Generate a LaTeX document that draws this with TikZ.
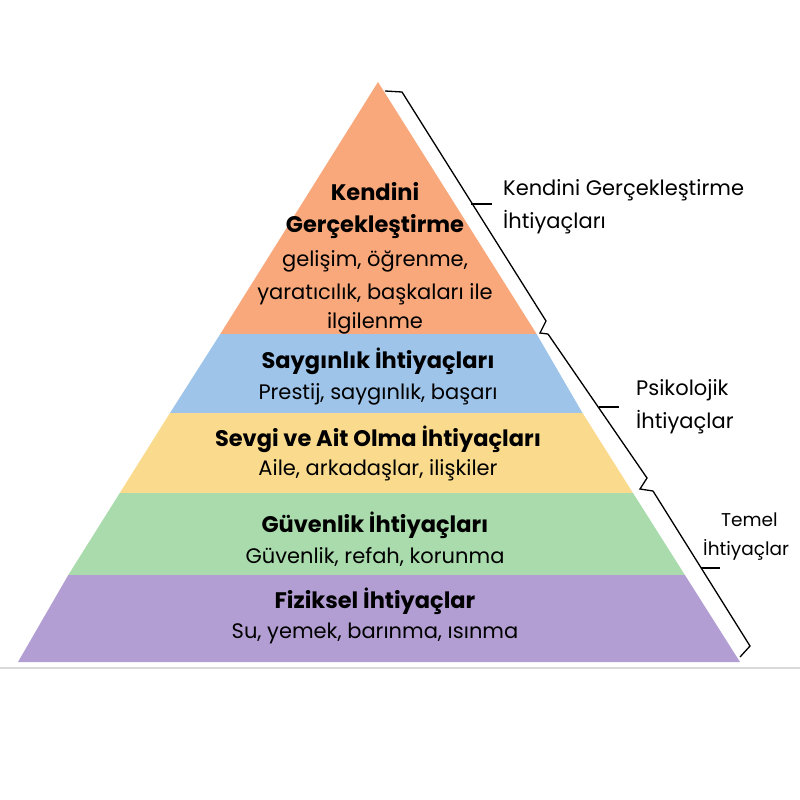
\documentclass[tikz,border=0pt]{standalone}
\usepackage{fontspec}
\setmainfont{Poppins}
\newfontfamily\boldf{Poppins Bold}
\definecolor{cOr}{HTML}{F9A87C}
\definecolor{cBl}{HTML}{9EC4EA}
\definecolor{cYe}{HTML}{FADA8C}
\definecolor{cGr}{HTML}{A9DBAC}
\definecolor{cPu}{HTML}{B29ED2}
\begin{document}
\begin{tikzpicture}[x=1pt,y=-1pt,
  ttl/.style={font=\boldf\fontsize{22.5}{24}\selectfont,text=black,inner sep=0},
  sub/.style={font=\fontsize{21}{24}\selectfont,text=black,inner sep=0},
  lbl/.style={font=\fontsize{21}{24}\selectfont,text=black,inner sep=0,anchor=west},
  lbs/.style={font=\fontsize{18.5}{22}\selectfont,text=black,inner sep=0,anchor=west},
  brc/.style={draw=black,line width=1.3pt,line join=miter}]
\useasboundingbox (0,0) rectangle (800,800);
\fill[white] (0,0) rectangle (800,800);
\coordinate (ap) at (378,82);
\fill[cOr] (ap) -- (536.6,334) -- (220.3,334) -- cycle;
\fill[cBl] (220.3,334) -- (536.6,334) -- (582.5,413) -- (170.0,413) -- cycle;
\fill[cYe] (170.0,413) -- (582.5,413) -- (633.0,493) -- (119.8,493) -- cycle;
\fill[cGr] (119.8,493) -- (633.0,493) -- (684.9,575) -- (68.3,575) -- cycle;
\fill[cPu] (68.3,575) -- (684.9,575) -- (740,662) -- (18,662) -- cycle;
\draw[black!15,line width=1.2pt] (0,668) -- (800,668);
\node[ttl] (t1a) at (375,192) {Kendini};
\node[ttl] (t1b) at (375,227) {Gerçekleştirme};
\node[sub] (s1a) at (375,261) {gelişim, öğrenme,};
\node[sub] (s1b) at (375,294) {yaratıcılık, başkaları ile};
\node[sub] (s1c) at (375,323) {ilgilenme};
\node[ttl] (t2) at (378,361) {Saygınlık İhtiyaçları};
\node[sub] (s2) at (378,394) {Prestij, saygınlık, başarı};
\node[ttl] (t3) at (378,439) {Sevgi ve Ait Olma İhtiyaçları};
\node[sub] (s3) at (378,470) {Aile, arkadaşlar, ilişkiler};
\node[ttl] (t4) at (375,525) {Güvenlik İhtiyaçları};
\node[sub] (s4) at (375,557) {Güvenlik, refah, korunma};
\node[ttl] (t5) at (375,601) {Fiziksel İhtiyaçlar};
\node[sub] (s5) at (375,633) {Su, yemek, barınma, ısınma};
\coordinate (b1s) at (385,91);
\coordinate (b1e) at (548,334);
\coordinate (b2e) at (653,491);
\coordinate (b3e) at (740,657);
\draw[brc] (b1s) -- (402,92) -- (546,321) -- (540,333) -- (b1e);
\draw[brc] (b1e) -- (647,478) -- (640,489) -- (b2e);
\draw[brc] (b2e) -- (750,646) -- (b3e);
\draw[brc] (471,204) -- (492,204);
\draw[brc] (599,407) -- (619,407);
\draw[brc] (701,568) -- (720,568);
\node[lbl] (l1a) at (503,190) {Kendini Gerçekleştirme};
\node[lbl] (l1b) at (503,222) {İhtiyaçları};
\node[lbl] (l2a) at (636,390) {Psikolojik};
\node[lbl] (l2b) at (636,422) {İhtiyaçlar};
\node[lbs] (l3a) at (721,520) {Temel};
\node[lbs] (l3b) at (703,550) {İhtiyaçlar};
\end{tikzpicture}
\end{document}
